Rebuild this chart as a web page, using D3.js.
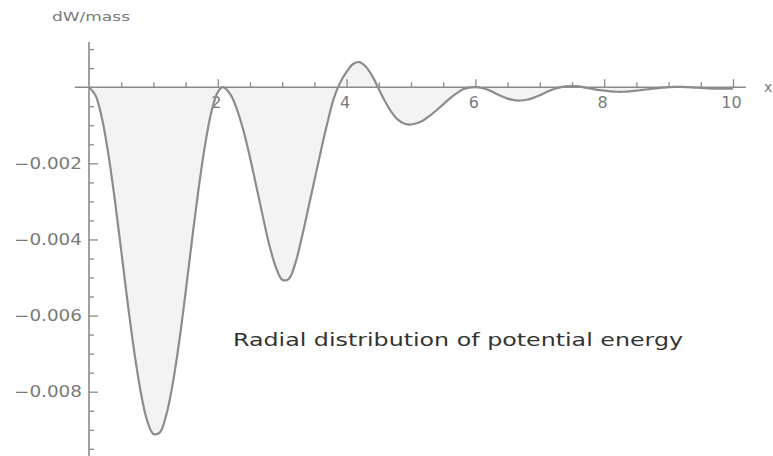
<!DOCTYPE html>
<html>
<head>
<meta charset="utf-8">
<script src="https://cdn.jsdelivr.net/npm/d3@7"></script>
<style>
  html, body { margin: 0; padding: 0; background: #fff; }
  svg { display: block; }
  text { font-family: "DejaVu Sans", sans-serif; }
</style>
</head>
<body>
<svg id="chart" width="773" height="456"></svg>
<script>
// ---- data ----
const xValues = [
  0.0, 0.1, 0.2, 0.3, 0.4, 0.5, 0.6, 0.7, 0.8, 0.9,
  1.0, 1.1, 1.2, 1.3, 1.4, 1.5, 1.6, 1.7, 1.8, 1.9,
  2.0, 2.08, 2.2, 2.3, 2.4, 2.5, 2.6, 2.7, 2.8, 2.9,
  3.0, 3.1, 3.2, 3.3, 3.4, 3.5, 3.6, 3.7, 3.8, 3.9,
  4.0, 4.1, 4.2, 4.3, 4.4, 4.5, 4.6, 4.7, 4.8, 4.9,
  5.0, 5.1, 5.2, 5.3, 5.4, 5.5, 5.6, 5.7, 5.8, 5.9,
  6.0, 6.1, 6.2, 6.3, 6.4, 6.5, 6.6, 6.7, 6.8, 6.9,
  7.0, 7.1, 7.2, 7.3, 7.4, 7.5, 7.6, 7.7, 7.8, 7.9,
  8.0, 8.1, 8.2, 8.3, 8.4, 8.5, 8.6, 8.7, 8.8, 8.9,
  9.0, 9.1, 9.2, 9.3, 9.4, 9.5, 9.6, 9.7, 9.8, 9.9, 10.0
];
const dWmass = [
  0, -0.00021, -0.00081, -0.00175, -0.00295, -0.00429, -0.00566, -0.00692, -0.00798, -0.00874,
  -0.00911, -0.00907, -0.00861, -0.00779, -0.00669, -0.00539, -0.00401, -0.00269, -0.00154, -0.00065,
  -0.00013, 0, -0.00020, -0.00060, -0.00115, -0.00185, -0.00262, -0.00340, -0.00415, -0.00472,
  -0.00506, -0.00504, -0.00465, -0.00398, -0.00322, -0.00245, -0.00168, -0.00095, -0.00030, 0.00012,
  0.00040, 0.00061, 0.00066, 0.00054, 0.00029, -0.00005, -0.00038, -0.00066, -0.00086, -0.00096,
  -0.00098, -0.00094, -0.00086, -0.00074, -0.00060, -0.00045, -0.00030, -0.00017, -0.00006, -0.00001,
  0.00000, -0.00002, -0.00007, -0.00015, -0.00023, -0.00030, -0.00034, -0.00035, -0.00033, -0.00028,
  -0.00021, -0.00013, -0.00006, -0.00001, 0.00002, 0.00003, 0.00002, -0.00001, -0.00004, -0.00007,
  -0.00009, -0.00011, -0.00012, -0.00012, -0.00011, -0.00009, -0.00007, -0.00005, -0.00003, -0.00001,
  0.00000, 0.00001, 0.00001, 0.00000, -0.00001, -0.00002, -0.00003, -0.00004, -0.00004, -0.00004, -0.00004
];
const xMajorTicks = [2, 4, 6, 8, 10];
const xMinorTicks = [0.5, 1, 1.5, 2.5, 3, 3.5, 4.5, 5, 5.5, 6.5, 7, 7.5, 8.5, 9, 9.5];
const yMajorTicks = [-0.002, -0.004, -0.006, -0.008];
const yMinorTicks = [0.001, 0.0005, -0.0005, -0.001, -0.0015, -0.0025, -0.003, -0.0035,
  -0.0045, -0.005, -0.0055, -0.0065, -0.007, -0.0075, -0.0085, -0.009, -0.0095];
const xAxisExtent = [-0.22, 10.2];
const yAxisExtent = [0.00119, -0.0097];
const xLabel = "x";
const yLabel = "dW/mass";
const annotation = "Radial distribution of potential energy";

// ---- drawing ----
const data = xValues.map((x, i) => ({ x, v: dWmass[i] }));
const svg = d3.select("#chart");
const axisColor = "#8a8a8a";
const labelColor = "#7a7a7a";

const x = d3.scaleLinear().domain([0, 10]).range([89, 733]);
const y = d3.scaleLinear().domain([0, -0.008]).range([87.2, 391.7]);
const curve = d3.curveCatmullRom.alpha(0.5);

// filled area between curve and axis
const area = d3.area()
  .x(d => x(d.x)).y0(y(0)).y1(d => y(d.v))
  .curve(curve);
svg.append("path").datum(data)
  .attr("d", area)
  .attr("fill", "#f3f3f3");

// axes lines
svg.append("line")
  .attr("x1", x(xAxisExtent[0])).attr("x2", x(xAxisExtent[1]))
  .attr("y1", y(0)).attr("y2", y(0))
  .attr("stroke", axisColor).attr("stroke-width", 1.6);
svg.append("line")
  .attr("x1", x(0)).attr("x2", x(0))
  .attr("y1", y(yAxisExtent[0])).attr("y2", y(yAxisExtent[1]))
  .attr("stroke", axisColor).attr("stroke-width", 1.6);

// x ticks (pointing up)
const gxMinor = svg.append("g").attr("transform", `translate(0,${y(0)})`)
  .call(d3.axisBottom(x).tickValues(xMinorTicks).tickSizeInner(-5).tickSizeOuter(0).tickFormat(""));
const gxMajor = svg.append("g").attr("transform", `translate(0,${y(0)})`)
  .call(d3.axisBottom(x).tickValues(xMajorTicks).tickSizeInner(-8).tickSizeOuter(0).tickPadding(9)
    .tickFormat(d3.format("d")));
[gxMinor, gxMajor].forEach(g => {
  g.select(".domain").remove();
  g.selectAll(".tick line").attr("stroke", axisColor).attr("stroke-width", 1.3);
});
gxMajor.selectAll(".tick text")
  .attr("fill", labelColor).attr("font-size", 16).attr("font-family", "DejaVu Sans")
  .attr("dx", -2);

// y ticks (pointing right), labels left
const gyMinor = svg.append("g").attr("transform", `translate(${x(0)},0)`)
  .call(d3.axisLeft(y).tickValues(yMinorTicks).tickSizeInner(-5).tickSizeOuter(0).tickFormat(""));
const gyMajor = svg.append("g").attr("transform", `translate(${x(0)},0)`)
  .call(d3.axisLeft(y).tickValues(yMajorTicks).tickSizeInner(-9).tickSizeOuter(0).tickPadding(7)
    .tickFormat(d3.format(".3f")));
[gyMinor, gyMajor].forEach(g => {
  g.select(".domain").remove();
  g.selectAll(".tick line").attr("stroke", axisColor).attr("stroke-width", 1.3);
});
gyMajor.selectAll(".tick text")
  .attr("fill", labelColor).attr("font-size", 15).attr("font-family", "DejaVu Sans")
  .attr("textLength", 68).attr("lengthAdjust", "spacingAndGlyphs");

// curve
const line = d3.line().x(d => x(d.x)).y(d => y(d.v)).curve(curve);
svg.append("path").datum(data)
  .attr("d", line)
  .attr("fill", "none")
  .attr("stroke", "#8c8c8c")
  .attr("stroke-width", 2.2)
  .attr("stroke-linejoin", "round");

// axis labels
svg.append("text")
  .attr("x", 52).attr("y", 21)
  .attr("font-size", 13).attr("fill", labelColor)
  .attr("textLength", 78).attr("lengthAdjust", "spacingAndGlyphs")
  .text(yLabel);
svg.append("text")
  .attr("x", 764).attr("y", y(0) + 5)
  .attr("font-size", 14).attr("fill", labelColor)
  .text(xLabel);

// annotation
svg.append("text")
  .attr("x", 233).attr("y", 346)
  .attr("font-size", 18).attr("fill", "#333")
  .attr("textLength", 450).attr("lengthAdjust", "spacingAndGlyphs")
  .text(annotation);
</script>
</body>
</html>
